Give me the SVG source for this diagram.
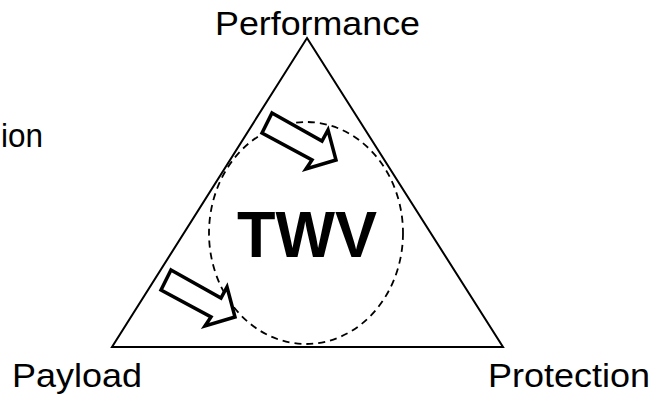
<svg xmlns="http://www.w3.org/2000/svg" xmlns:xlink="http://www.w3.org/1999/xlink" width="661" height="396" viewBox="0 0 661 396">
<style>
.lbl{font-family:"Liberation Sans",Arial,sans-serif;font-size:34px;fill:#000}
.big{font-family:"Liberation Sans",Arial,sans-serif;font-size:65px;font-weight:bold;fill:#000}
.edge{fill:none;stroke:#000;stroke-width:2}
.blk{fill:#fff;stroke:#000;stroke-width:3.5;stroke-linejoin:miter}
</style>
<defs>
<polygon id="blockArrow" class="blk" points="272,113 322,141 328,130 336,160 306,169 312,160 262,133"/>
</defs>
<rect width="661" height="396" fill="#fff"/>
<g id="connectors">
<polygon id="triangle" class="edge" points="307,38 503,347 112,347"/>
<ellipse id="twv-circle" cx="306" cy="233" rx="97" ry="111" fill="none" stroke="#000" stroke-width="1.8" stroke-dasharray="7,5"/>
<use id="arrow-performance" xlink:href="#blockArrow"/>
<use id="arrow-payload" xlink:href="#blockArrow" transform="translate(-101,157)"/>
</g>
<g id="node-performance"><text class="lbl" x="317.5" y="35" text-anchor="middle" textLength="205" lengthAdjust="spacingAndGlyphs">Performance</text></g>
<g id="node-payload"><text class="lbl" x="12" y="387" textLength="130" lengthAdjust="spacingAndGlyphs">Payload</text></g>
<g id="node-protection"><text class="lbl" x="488" y="387" textLength="162" lengthAdjust="spacingAndGlyphs">Protection</text></g>
<g id="node-ion"><text class="lbl" x="1" y="147" textLength="42" lengthAdjust="spacingAndGlyphs">ion</text></g>
<g id="node-twv"><text class="big" x="307" y="257" text-anchor="middle" textLength="140" lengthAdjust="spacingAndGlyphs">TWV</text></g>
</svg>
